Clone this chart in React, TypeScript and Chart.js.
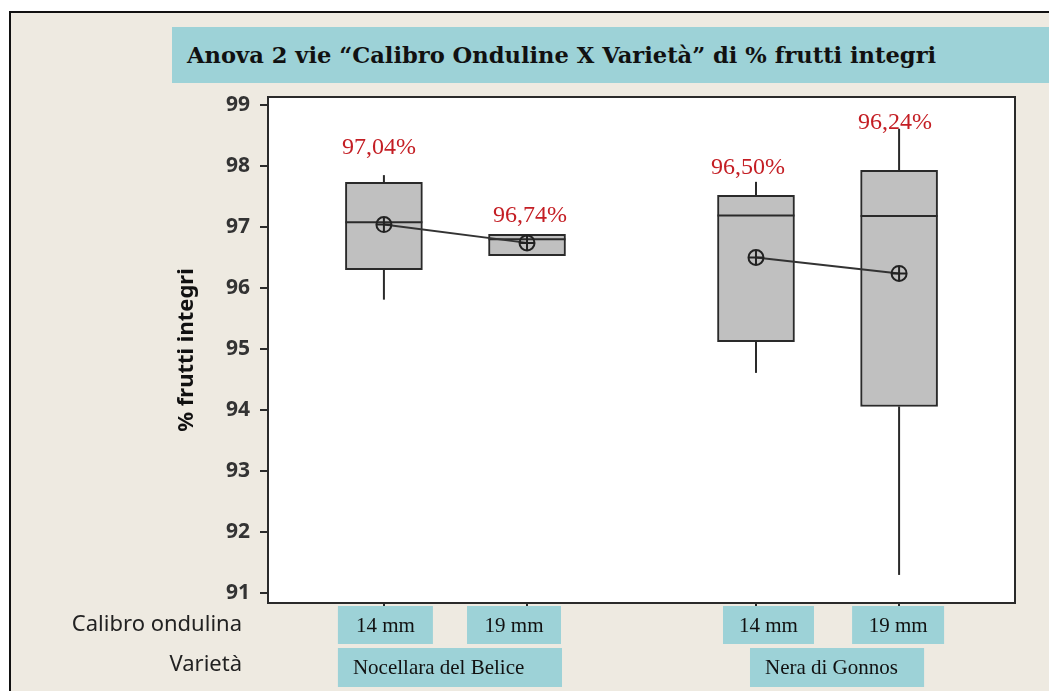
import React, { useEffect, useRef } from 'react';
import { Chart, registerables } from 'chart.js';

Chart.register(...registerables);

// ---- data ----
const calibri = ['14 mm', '19 mm', '14 mm', '19 mm'];
const varieties = ['Nocellara del Belice', 'Nera di Gonnos'];
const varietyOf = [0, 0, 1, 1];
const xPos = [1, 2, 3.6, 4.6];
const whiskerLow = [95.81, 96.53, 94.61, 91.3];
const q1 = [96.3, 96.53, 95.12, 94.06];
const medians = [97.08, 96.8, 97.19, 97.18];
const q3 = [97.73, 96.88, 97.52, 97.93];
const whiskerHigh = [97.85, 96.88, 97.74, 98.61];
const means = [97.04, 96.74, 96.5, 96.24];
const yTicks = [91, 92, 93, 94, 95, 96, 97, 98, 99];

const titleText = 'Anova 2 vie \u201CCalibro Onduline X Variet\u00E0\u201D di % frutti integri';
const yTitle = '% frutti integri';
const rowLabels = ['Calibro ondulina', 'Variet\u00E0'];

// ---- layout / style ----
const W = 1049;
const H = 691;
const BG = '#eeeae1';
const TEAL = '#9dd2d7';
const DARK = '#2a2a2a';
const RED = '#c41e24';
const labelLift = [27, 19, 14, 6];
const labelDx = [-5, 3, -8, -4];
const calDx = [1.5, -13, 12.5, -1];
const calW = [95, 94, 91, 92];
const varLeftDx = [-46, -6];
const varRightDx = [35, 25];

const fmtPct = (v: number) => v.toFixed(2).replace('.', ',') + '%';

const extrasPlugin = {
  id: 'boxExtras',
  beforeDraw(chart: any) {
    const { ctx, chartArea: a } = chart;
    ctx.save();
    ctx.fillStyle = '#ffffff';
    ctx.fillRect(a.left, a.top, a.right - a.left, a.bottom - a.top);
    ctx.restore();
  },
  afterDatasetDraw(chart: any, args: any) {
    if (args.index !== 0) return;
    const { ctx } = chart;
    const y = chart.scales.y;
    const meta = chart.getDatasetMeta(0);
    ctx.save();
    ctx.strokeStyle = DARK;
    ctx.lineWidth = 2;
    meta.data.forEach((el: any, i: number) => {
      const { x, width } = el.getProps(['x', 'width'], true);
      const line = (x1: number, y1: number, x2: number, y2: number) => {
        ctx.beginPath();
        ctx.moveTo(x1, y1);
        ctx.lineTo(x2, y2);
        ctx.stroke();
      };
      line(x, y.getPixelForValue(q3[i]), x, y.getPixelForValue(whiskerHigh[i]));
      line(x, y.getPixelForValue(q1[i]), x, y.getPixelForValue(whiskerLow[i]));
      const ym = y.getPixelForValue(medians[i]);
      line(x - width / 2, ym, x + width / 2, ym);
    });
    ctx.restore();
  },
  afterDraw(chart: any) {
    const { ctx, chartArea: a } = chart;
    const xs = chart.scales.x;
    const ys = chart.scales.y;
    ctx.save();
    // frame
    ctx.strokeStyle = DARK;
    ctx.lineWidth = 2;
    ctx.strokeRect(a.left, a.top, a.right - a.left, a.bottom - a.top);

    // mean labels
    ctx.fillStyle = RED;
    ctx.font = "24px 'Liberation Serif'";
    ctx.textAlign = 'center';
    ctx.textBaseline = 'middle';
    means.forEach((m, i) => {
      const px = xs.getPixelForValue(xPos[i]) + labelDx[i];
      const py = ys.getPixelForValue(whiskerHigh[i]) - labelLift[i];
      ctx.fillText(fmtPct(m), px, py);
    });

    // calibro boxes
    const calTop = a.bottom + 3;
    const calH = 38;
    ctx.font = "21px 'Liberation Serif'";
    calibri.forEach((c, i) => {
      const cx = xs.getPixelForValue(xPos[i]) + calDx[i];
      ctx.fillStyle = TEAL;
      ctx.fillRect(cx - calW[i] / 2, calTop, calW[i], calH);
      ctx.fillStyle = '#111';
      ctx.textAlign = 'center';
      ctx.fillText(c, cx, calTop + calH / 2 + 1);
    });

    // variety boxes
    const varTop = a.bottom + 45;
    const varH = 39;
    varieties.forEach((v, g) => {
      const idx = varietyOf.map((vv, i) => (vv === g ? i : -1)).filter((i) => i >= 0);
      const left = xs.getPixelForValue(xPos[idx[0]]) + varLeftDx[g];
      const right = xs.getPixelForValue(xPos[idx[idx.length - 1]]) + varRightDx[g];
      ctx.fillStyle = TEAL;
      ctx.fillRect(left, varTop, right - left, varH);
      ctx.fillStyle = '#111';
      ctx.textAlign = 'left';
      ctx.fillText(v, left + 15, varTop + varH / 2 + 1);
    });

    // row labels
    ctx.fillStyle = '#222';
    ctx.font = "22px 'Noto Sans'";
    ctx.textAlign = 'right';
    ctx.fillText(rowLabels[0], 242, calTop + calH / 2);
    ctx.fillText(rowLabels[1], 242, varTop + varH / 2 - 3);
    ctx.restore();
  },
};

export default function App() {
  const ref = useRef<HTMLCanvasElement>(null);

  useEffect(() => {
    document.body.style.margin = '0';
    const canvas = ref.current;
    if (!canvas) return;

    const boxData = xPos.map((x, i) => ({ x, y: [q1[i], q3[i]] }));
    const meanLines = varieties.map((_, g) => ({
      type: 'line',
      data: xPos
        .map((x, i) => ({ x, y: means[i], g: varietyOf[i] }))
        .filter((p) => p.g === g)
        .map((p) => ({ x: p.x, y: p.y })),
      borderColor: '#333',
      borderWidth: 2,
      pointStyle: 'circle',
      pointRadius: 7.5,
      pointBorderWidth: 2,
      pointBackgroundColor: 'rgba(0,0,0,0)',
      pointBorderColor: '#222',
      order: 1,
    }));
    const crosses = {
      type: 'line',
      showLine: false,
      data: xPos.map((x, i) => ({ x, y: means[i] })),
      pointStyle: 'cross',
      pointRadius: 7.5,
      pointBorderWidth: 2,
      pointBorderColor: '#222',
      order: 0,
    };

    const chart = new Chart(canvas, {
      type: 'bar',
      data: {
        datasets: [
          {
            type: 'bar',
            data: boxData as any,
            backgroundColor: '#c0c0c0',
            borderColor: DARK,
            borderWidth: 2,
            borderSkipped: false,
            barThickness: 77,
            order: 3,
          } as any,
          ...(meanLines as any[]),
          crosses as any,
        ],
      },
      options: {
        animation: false,
        responsive: false,
        events: [],
        layout: { padding: { left: 0, top: 97, right: 34, bottom: 0 } },
        plugins: {
          legend: { display: false },
          tooltip: { enabled: false },
          title: { display: false },
        },
        scales: {
          x: {
            type: 'linear',
            min: 0.19,
            max: 5.41,
            offset: false,
            afterBuildTicks: (s: any) => {
              s.ticks = xPos.map((v) => ({ value: v }));
            },
            afterFit: (s: any) => {
              s.height = 88;
            },
            ticks: { display: false },
            grid: {
              offset: false,
              drawOnChartArea: false,
              drawTicks: true,
              tickLength: 4,
              color: DARK,
              lineWidth: 2,
            },
            border: { display: false },
          },
          y: {
            type: 'linear',
            min: 90.84,
            max: 99.13,
            afterBuildTicks: (s: any) => {
              s.ticks = yTicks.map((v) => ({ value: v }));
            },
            afterFit: (s: any) => {
              s.width = 268;
            },
            ticks: {
              padding: 10,
              color: '#333',
              font: { family: 'Noto Sans', size: 21, weight: 'bold' },
            },
            grid: {
              drawOnChartArea: false,
              drawTicks: true,
              tickLength: 8,
              color: DARK,
              lineWidth: 2,
            },
            border: { display: false },
            title: {
              display: true,
              text: yTitle,
              color: '#111',
              font: { family: 'Noto Sans', size: 22, weight: 'bold' },
              padding: { top: 174, bottom: 0 },
            },
          },
        },
      } as any,
      plugins: [extrasPlugin],
    });

    return () => chart.destroy();
  }, []);

  return (
    <div style={{ position: 'fixed', left: 0, top: 0, width: W, height: H, background: '#fff', overflow: 'hidden' }}>
      <div
        style={{
          position: 'absolute',
          left: 9,
          top: 11,
          width: W - 9,
          height: H - 11,
          boxSizing: 'border-box',
          borderLeft: '2px solid #111',
          borderTop: '2px solid #111',
          background: BG,
        }}
      />
      <div
        style={{
          position: 'absolute',
          left: 172,
          top: 27,
          width: W - 172,
          height: 56,
          background: TEAL,
          boxSizing: 'border-box',
          paddingLeft: 15,
          lineHeight: '56px',
          fontFamily: "'DejaVu Serif', serif",
          fontWeight: 'bold',
          fontSize: 22.6,
          color: '#111',
          whiteSpace: 'nowrap',
        }}
      >
        {titleText}
      </div>
      <canvas ref={ref} width={W} height={H} style={{ position: 'absolute', left: 0, top: 0, width: W, height: H }} />
    </div>
  );
}
